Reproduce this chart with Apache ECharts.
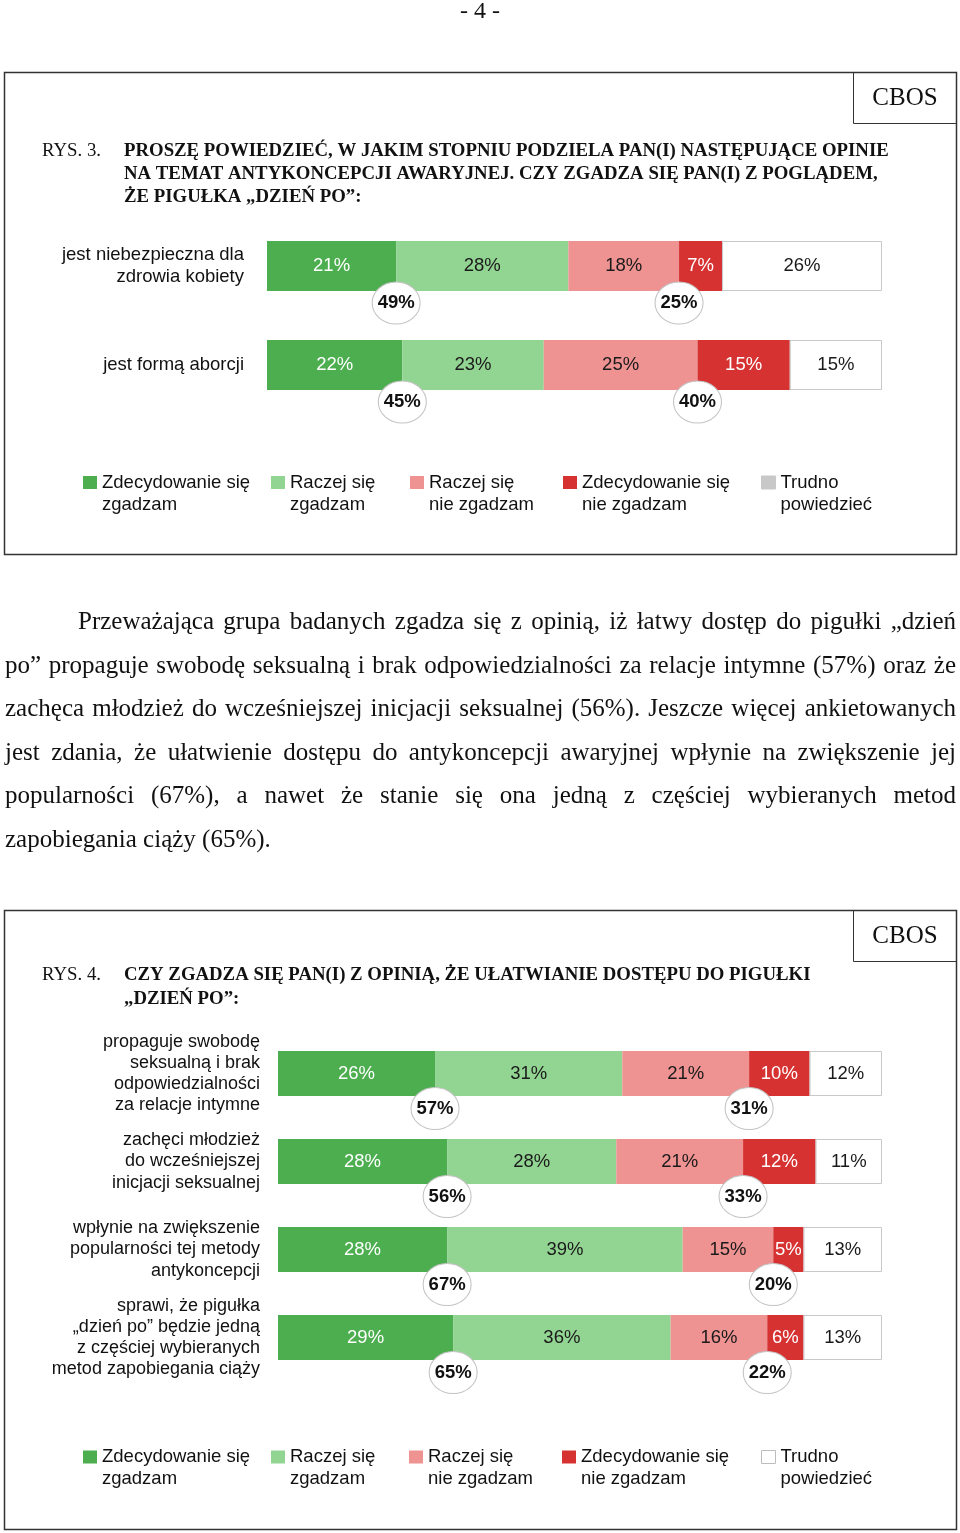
<!DOCTYPE html>
<html>
<head>
<meta charset="utf-8">
<script src="https://cdn.jsdelivr.net/npm/echarts@6/dist/echarts.min.js"></script>
<style>
  html, body { margin: 0; padding: 0; background: #fff; }
  #page { position: relative; width: 960px; height: 1533px; overflow: hidden; }
  #main { position: absolute; left: 0; top: 0; width: 960px; height: 1533px; }
  #pagenum { position: absolute; left: 0; width: 960px; top: -3px; text-align: center;
    font-family: "Liberation Serif", "Times New Roman", serif; font-size: 24px; line-height: 26px; color: #111; }
  #para { position: absolute; left: 5px; top: 599px; width: 951px;
    font-family: "Liberation Serif", "Times New Roman", serif; font-size: 25px; color: #111; }
  #para div { height: 43.6px; line-height: 43.6px; text-align: justify; text-align-last: justify; white-space: nowrap; }
  #para div.first { padding-left: 73px; }
  #para div.last { text-align-last: left; }
</style>
</head>
<body>
<div id="page">
  <div id="main"></div>
  <div id="pagenum">- 4 -</div>
  <div id="para">
    <div class="first">Przeważająca grupa badanych zgadza się z opinią, iż łatwy dostęp do pigułki „dzień</div>
    <div>po” propaguje swobodę seksualną i brak odpowiedzialności za relacje intymne (57%) oraz że</div>
    <div>zachęca młodzież do wcześniejszej inicjacji seksualnej (56%). Jeszcze więcej ankietowanych</div>
    <div>jest zdania, że ułatwienie dostępu do antykoncepcji awaryjnej wpłynie na zwiększenie jej</div>
    <div>popularności (67%), a nawet że stanie się ona jedną z częściej wybieranych metod</div>
    <div class="last">zapobiegania ciąży (65%).</div>
  </div>
</div>
<script>
// ---------- DATA ----------
const seriesNames = ['Zdecydowanie się zgadzam', 'Raczej się zgadzam', 'Raczej się nie zgadzam', 'Zdecydowanie się nie zgadzam', 'Trudno powiedzieć'];
const legendLabels = ['Zdecydowanie się\nzgadzam', 'Raczej się\nzgadzam', 'Raczej się\nnie zgadzam', 'Zdecydowanie się\nnie zgadzam', 'Trudno\npowiedzieć'];

// RYS. 3
const chart1Categories = ['jest niebezpieczna dla\nzdrowia kobiety', 'jest formą aborcji'];
const chart1Strongly = [21, 22];
const chart1Rather = [28, 23];
const chart1RatherNot = [18, 25];
const chart1StronglyNot = [7, 15];
const chart1Hard = [26, 15];
const chart1AgreeTotals = [49, 45];
const chart1DisagreeTotals = [25, 40];

// RYS. 4
const chart2Categories = [
  'propaguje swobodę\nseksualną i brak\nodpowiedzialności\nza relacje intymne',
  'zachęci młodzież\ndo wcześniejszej\ninicjacji seksualnej',
  'wpłynie na zwiększenie\npopularności tej metody\nantykoncepcji',
  'sprawi, że pigułka\n„dzień po” będzie jedną\nz częściej wybieranych\nmetod zapobiegania ciąży'
];
const chart2Strongly = [26, 28, 28, 29];
const chart2Rather = [31, 28, 39, 36];
const chart2RatherNot = [21, 21, 15, 16];
const chart2StronglyNot = [10, 12, 5, 6];
const chart2Hard = [12, 11, 13, 13];
const chart2AgreeTotals = [57, 56, 67, 65];
const chart2DisagreeTotals = [31, 33, 20, 22];

// ---------- STYLE ----------
const SANS = '"Liberation Sans", Arial, sans-serif';
const SERIF = '"Liberation Serif", "Times New Roman", serif';
const colors = ['#4cae4f', '#92d492', '#ee9292', '#d63232', '#ffffff'];
const labelColors = ['#ffffff', '#1a1a1a', '#1a1a1a', '#ffffff', '#1a1a1a'];
const FS = 18.5;

function barSeries(idx, arrays, barWidth) {
  return arrays.map((arr, k) => ({
    name: seriesNames[k],
    type: 'bar',
    stack: 'total' + idx,
    xAxisIndex: idx,
    yAxisIndex: idx,
    barWidth: barWidth,
    data: arr,
    itemStyle: {
      color: colors[k],
      borderColor: k === 4 ? '#c8c8c8' : colors[k],
      borderWidth: k === 4 ? 1 : 0
    },
    label: {
      show: true,
      position: 'inside',
      formatter: '{c}%',
      color: labelColors[k],
      fontFamily: SANS,
      fontSize: FS
    },
    emphasis: { disabled: true },
    z: 2
  }));
}

// agree circle sits on the end of the first segment, disagree circle on the end of the third
function circleSeries(idx, s1, s2, s3, agree, disagree, offsetY) {
  const data = [];
  for (let i = 0; i < s1.length; i++) {
    data.push([s1[i], i, agree[i]]);
    data.push([s1[i] + s2[i] + s3[i], i, disagree[i]]);
  }
  return {
    type: 'scatter',
    xAxisIndex: idx,
    yAxisIndex: idx,
    data: data,
    symbol: 'circle',
    symbolSize: [48, 42],
    symbolOffset: [0, offsetY],
    itemStyle: { color: '#ffffff', borderColor: '#c4c4c4', borderWidth: 1, opacity: 1 },
    label: {
      show: true,
      position: 'inside',
      formatter: p => p.value[2] + '%',
      color: '#111',
      fontFamily: SANS,
      fontWeight: 'bold',
      fontSize: FS
    },
    emphasis: { disabled: true },
    z: 5
  };
}

function legends(top, lefts, hardColor, hardBorder) {
  return seriesNames.map((n, k) => ({
    left: lefts[k],
    top: top,
    padding: 0,
    orient: 'horizontal',
    selectedMode: false,
    icon: 'rect',
    itemWidth: 14,
    itemHeight: 13,
    data: [k === 4 ? { name: n, itemStyle: { color: hardColor, borderColor: hardBorder, borderWidth: 1 } } : { name: n }],
    formatter: () => ' \n' + legendLabels[k],
    textStyle: { fontFamily: SANS, fontSize: FS, lineHeight: 22, color: '#111' }
  }));
}

function yAxisDef(idx, cats, margin, fs, lh) {
  return {
    type: 'category',
    gridIndex: idx,
    data: cats,
    inverse: true,
    axisLine: { show: false },
    axisTick: { show: false },
    splitLine: { show: false },
    axisLabel: { margin: margin, fontFamily: SANS, fontSize: fs, lineHeight: lh, color: '#111', align: 'right' }
  };
}

const titleBold = { fontFamily: SERIF, fontWeight: 'bold', fontSize: 18.8, lineHeight: 23, color: '#111' };
const titleNormal = { fontFamily: SERIF, fontWeight: 'normal', fontSize: 18.8, lineHeight: 23, color: '#111' };

const chart = echarts.init(document.getElementById('main'), null, { renderer: 'canvas' });
const option = {
  animation: false,
  backgroundColor: 'transparent',
  textStyle: { fontFamily: SANS },
  title: [
    { text: 'RYS. 3.', left: 42, top: 139.5, padding: 0, textStyle: titleNormal },
    { text: 'PROSZĘ POWIEDZIEĆ, W JAKIM STOPNIU PODZIELA PAN(I) NASTĘPUJĄCE OPINIE\nNA TEMAT ANTYKONCEPCJI AWARYJNEJ. CZY ZGADZA SIĘ PAN(I) Z POGLĄDEM,\nŻE PIGUŁKA „DZIEŃ PO”:', left: 124, top: 139.5, padding: 0, textStyle: titleBold },
    { text: 'RYS. 4.', left: 42, top: 963.5, padding: 0, textStyle: titleNormal },
    { text: 'CZY ZGADZA SIĘ PAN(I) Z OPINIĄ, ŻE UŁATWIANIE DOSTĘPU DO PIGUŁKI\n„DZIEŃ PO”:', left: 124, top: 963.5, padding: 0, textStyle: Object.assign({}, titleBold, { lineHeight: 24 }) }
  ],
  graphic: [
    { type: 'rect', shape: { x: 4.5, y: 72.5, width: 952, height: 482 }, style: { fill: 'none', stroke: '#333', lineWidth: 1.5 }, silent: true },
    { type: 'rect', shape: { x: 853.5, y: 72.5, width: 103, height: 51 }, style: { fill: 'none', stroke: '#333', lineWidth: 1 }, silent: true },
    { type: 'text', x: 905, y: 98, style: { text: 'CBOS', fontFamily: SERIF, fontSize: 25, fill: '#111', align: 'center', verticalAlign: 'middle', textAlign: 'center', textVerticalAlign: 'middle' }, silent: true },
    { type: 'rect', shape: { x: 4.5, y: 910.5, width: 952, height: 619 }, style: { fill: 'none', stroke: '#333', lineWidth: 1.5 }, silent: true },
    { type: 'rect', shape: { x: 853.5, y: 910.5, width: 103, height: 51 }, style: { fill: 'none', stroke: '#333', lineWidth: 1 }, silent: true },
    { type: 'text', x: 905, y: 936, style: { text: 'CBOS', fontFamily: SERIF, fontSize: 25, fill: '#111', align: 'center', verticalAlign: 'middle', textAlign: 'center', textVerticalAlign: 'middle' }, silent: true }
  ],
  legend: legends(449.5, [83, 271, 410, 563, 761], '#c8c8c8', '#c8c8c8')
    .concat(legends(1424, [83, 271, 409, 562, 761], '#ffffff', '#bdbdbd')),
  grid: [
    { left: 267, top: 216.5, width: 615, height: 198, containLabel: false },
    { left: 278, top: 1029.5, width: 604, height: 352, containLabel: false }
  ],
  xAxis: [
    { type: 'value', gridIndex: 0, min: 0, max: 100, show: false },
    { type: 'value', gridIndex: 1, min: 0, max: 100, show: false }
  ],
  yAxis: [
    yAxisDef(0, chart1Categories, 23, 18.5, 22),
    yAxisDef(1, chart2Categories, 18, 18, 21.3)
  ],
  series: [
    ...barSeries(0, [chart1Strongly, chart1Rather, chart1RatherNot, chart1StronglyNot, chart1Hard], 50),
    circleSeries(0, chart1Strongly, chart1Rather, chart1RatherNot, chart1AgreeTotals, chart1DisagreeTotals, 37),
    ...barSeries(1, [chart2Strongly, chart2Rather, chart2RatherNot, chart2StronglyNot, chart2Hard], 45),
    circleSeries(1, chart2Strongly, chart2Rather, chart2RatherNot, chart2AgreeTotals, chart2DisagreeTotals, 35)
  ]
};
chart.setOption(option);
</script>
</body>
</html>
